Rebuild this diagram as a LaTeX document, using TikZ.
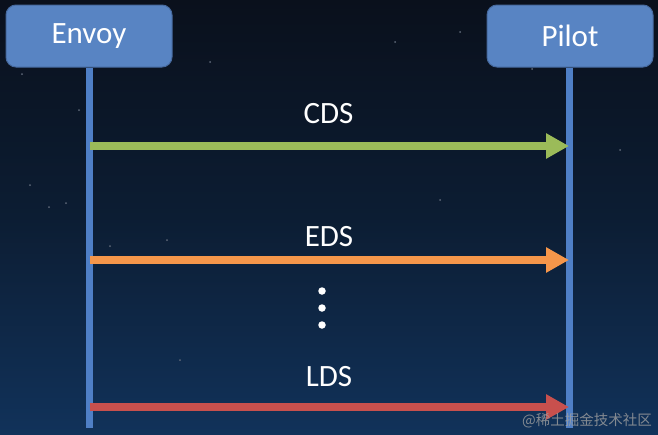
\documentclass[tikz,border=0pt]{standalone}
\usepackage{fontspec}
\setmainfont{Carlito}
\newfontfamily\cjkfont{Noto Sans CJK SC}
\usetikzlibrary{arrows.meta}
\definecolor{bgtop}{HTML}{0A101C}
\definecolor{bgmid}{HTML}{0C1D33}
\definecolor{bgbot}{HTML}{11325A}
\definecolor{boxfill}{HTML}{5884C3}
\definecolor{boxline}{HTML}{46699E}
\definecolor{lifeblue}{HTML}{4F7FC6}
\definecolor{cdsgreen}{HTML}{9BBB59}
\definecolor{edsorange}{HTML}{F5964A}
\definecolor{ldsred}{HTML}{C8504D}
\definecolor{starcol}{HTML}{5E6878}
\tikzset{
  actor/.style={draw=boxline, line width=1pt, fill=boxfill, rounded corners=10pt,
    minimum width=166pt, minimum height=62pt, inner sep=0pt, text=white,
    font=\fontsize{31}{36}\selectfont},
  lifeline/.style={draw=lifeblue, line width=7pt},
  msg/.style={line width=8.5pt, -{Triangle[length=23pt,width=24pt]}},
  lbl/.style={text=white, inner sep=0pt, font=\fontsize{31}{36}\selectfont},
  dotmark/.style={circle, fill=white, inner sep=0pt, minimum size=7.5pt},
  star/.style={circle, fill=starcol, inner sep=0pt, minimum size=2pt},
  wmark/.style={text=gray!75!white, opacity=0.8, inner sep=0pt, font=\cjkfont\fontsize{14.5}{16}\selectfont}
}
\begin{document}
\begin{tikzpicture}[x=1pt, y=-1pt]
  \useasboundingbox (0,0) rectangle (658,434);
  % background
  \shade[top color=bgtop, bottom color=bgbot, middle color=bgmid] (0,0) rectangle (658,434);
  % stars
  \foreach \sx/\sy in {22/74, 532/69, 49/207, 66/203, 110/246, 79/110, 210/62, 167/240, 395/42, 460/32, 30/185, 620/150, 440/200, 180/360}
    \node[star] at (\sx,\sy) {};
  % actors
  \node[actor] (envoy) at (89,36) {Envoy};
  \node[actor] (pilot) at (570,36) {Pilot};
  % lifelines
  \coordinate (envoyend) at (89,428);
  \coordinate (pilotend) at (569.5,428);
  \draw[lifeline] (envoy.south -| envoyend) -- (envoyend);
  \draw[lifeline] (pilot.south -| pilotend) -- (pilotend);
  % message coordinates
  \coordinate (cdsA) at (89.5,146);
  \coordinate (cdsB) at (569,146);
  \coordinate (edsA) at (89.5,260);
  \coordinate (edsB) at (569,260);
  \coordinate (ldsA) at (89.5,407);
  \coordinate (ldsB) at (569,407);
  \draw[msg, draw=cdsgreen, fill=cdsgreen] (cdsA) -- (cdsB);
  \draw[msg, draw=edsorange, fill=edsorange] (edsA) -- (edsB);
  \draw[msg, draw=ldsred, fill=ldsred] (ldsA) -- (ldsB);
  % labels
  \node[lbl] (cds) at (328.5,114) {CDS};
  \node[lbl] (eds) at (329,237) {EDS};
  \node[lbl] (lds) at (329,377) {LDS};
  % ellipsis dots
  \node[dotmark] (d1) at (322,291) {};
  \node[dotmark] (d2) at (322,308) {};
  \node[dotmark] (d3) at (322,325) {};
  % watermark
  \node[wmark, anchor=east] (wm) at (652,421) {@稀土掘金技术社区};
\end{tikzpicture}
\end{document}
